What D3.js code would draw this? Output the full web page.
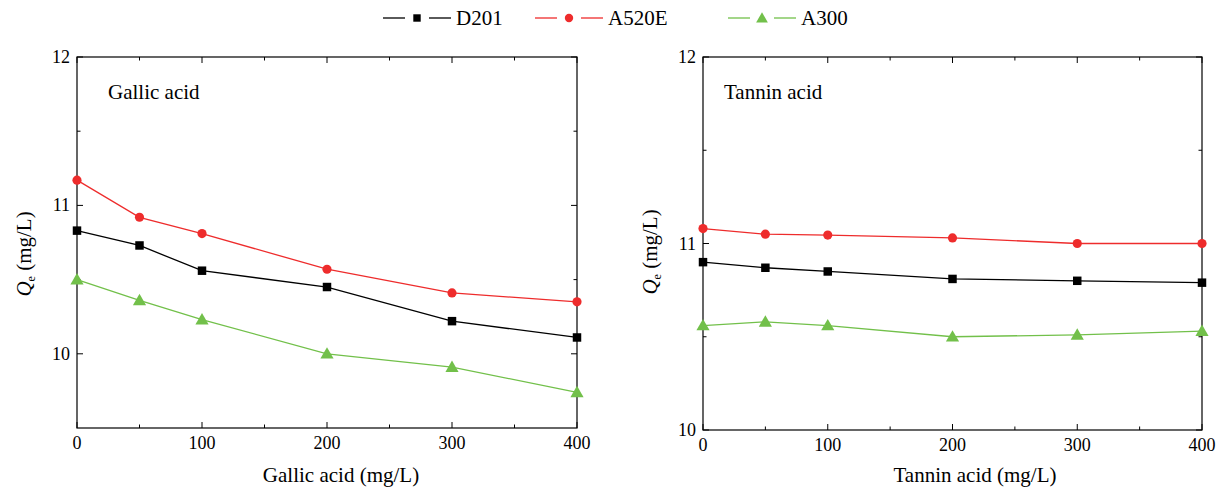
<!DOCTYPE html>
<html>
<head>
<meta charset="utf-8">
<script src="https://cdn.jsdelivr.net/npm/d3@7"></script>
<style>
  body { margin: 0; background: #fff; }
  svg text { font-family: "Liberation Serif", "Times New Roman", "DejaVu Serif", serif; }
</style>
</head>
<body>
<div id="chart"></div>
<script>
var xValues = [0, 50, 100, 200, 300, 400];
var seriesNames = ["D201", "A520E", "A300"];
var seriesColors = ["#000000", "#ee2c2c", "#72c04a"];
var seriesSymbols = [d3.symbolSquare, d3.symbolCircle, d3.symbolTriangle];

// Gallic acid panel
var gallicD201 = [10.83, 10.73, 10.56, 10.45, 10.22, 10.11];
var gallicA520E = [11.17, 10.92, 10.81, 10.57, 10.41, 10.35];
var gallicA300 = [10.50, 10.36, 10.23, 10.00, 9.91, 9.74];

// Tannin acid panel
var tanninD201 = [10.90, 10.87, 10.85, 10.81, 10.80, 10.79];
var tanninA520E = [11.08, 11.05, 11.045, 11.03, 11.00, 11.00];
var tanninA300 = [10.56, 10.58, 10.56, 10.50, 10.51, 10.53];

var xTicks = [0, 100, 200, 300, 400];
var xMinor = [50, 150, 250, 350];

var width = 1226, height = 490;
var svg = d3.select("#chart").append("svg")
    .attr("width", width)
    .attr("height", height)
    .attr("font-family", "Liberation Serif, Times New Roman, serif");

var panels = [
  {left: 77, right: 577, top: 57, bottom: 428, yDomain: [9.5, 12], yTicks: [10, 11, 12], yMinor: [10.5, 11.5],
   label: "Gallic acid", labelDx: 31, titleX: 31, titleY: 254, xTitleX: 341,
   xTitle: "Gallic acid (mg/L)", data: [gallicD201, gallicA520E, gallicA300]},
  {left: 703, right: 1202, top: 57, bottom: 430, yDomain: [10, 12], yTicks: [10, 11, 12], yMinor: [10.5, 11.5],
   label: "Tannin acid", labelDx: 21, titleX: 657, titleY: 252, xTitleX: 975,
   xTitle: "Tannin acid (mg/L)", data: [tanninD201, tanninA520E, tanninA300]}
];

panels.forEach(function(p) {
  var x = d3.scaleLinear().domain([0, 400]).range([p.left, p.right]);
  var y = d3.scaleLinear().domain(p.yDomain).range([p.bottom, p.top]);
  var g = svg.append("g");

  // frame
  g.append("rect")
    .attr("x", p.left).attr("y", p.top)
    .attr("width", p.right - p.left).attr("height", p.bottom - p.top)
    .attr("fill", "none").attr("stroke", "#000").attr("stroke-width", 1.2);

  // inward ticks on all four sides
  var xAll = xTicks.map(function(v) { return {v: v, len: 6}; })
    .concat(xMinor.map(function(v) { return {v: v, len: 3.5}; }));
  var yAll = p.yTicks.map(function(v) { return {v: v, len: 6}; })
    .concat(p.yMinor.map(function(v) { return {v: v, len: 3.5}; }));

  xAll.forEach(function(t) {
    g.append("line").attr("x1", x(t.v)).attr("x2", x(t.v))
      .attr("y1", p.bottom).attr("y2", p.bottom - t.len)
      .attr("stroke", "#000").attr("stroke-width", 1);
    g.append("line").attr("x1", x(t.v)).attr("x2", x(t.v))
      .attr("y1", p.top).attr("y2", p.top + t.len)
      .attr("stroke", "#000").attr("stroke-width", 1);
  });
  yAll.forEach(function(t) {
    g.append("line").attr("x1", p.left).attr("x2", p.left + t.len)
      .attr("y1", y(t.v)).attr("y2", y(t.v))
      .attr("stroke", "#000").attr("stroke-width", 1);
    g.append("line").attr("x1", p.right).attr("x2", p.right - t.len)
      .attr("y1", y(t.v)).attr("y2", y(t.v))
      .attr("stroke", "#000").attr("stroke-width", 1);
  });

  // tick labels
  g.selectAll(".xl").data(xTicks).enter().append("text")
    .attr("x", function(d) { return x(d); })
    .attr("y", p.bottom + 21)
    .attr("text-anchor", "middle")
    .attr("font-size", "18px")
    .text(function(d) { return d; });
  g.selectAll(".yl").data(p.yTicks).enter().append("text")
    .attr("x", p.left - 7)
    .attr("y", function(d) { return y(d) + 6; })
    .attr("text-anchor", "end")
    .attr("font-size", "18px")
    .text(function(d) { return d; });

  // axis titles
  g.append("text")
    .attr("x", p.xTitleX)
    .attr("y", 482)
    .attr("text-anchor", "middle")
    .attr("font-size", "21px")
    .text(p.xTitle);

  var yt = g.append("text")
    .attr("transform", "translate(" + p.titleX + "," + p.titleY + ") rotate(-90)")
    .attr("text-anchor", "middle")
    .attr("font-size", "21px");
  yt.append("tspan").attr("font-style", "italic").text("Q");
  yt.append("tspan").attr("font-size", "12px").attr("dy", 4).text("e");
  yt.append("tspan").attr("dy", -4).text(" (mg/L)");

  // panel label
  g.append("text")
    .attr("x", p.left + p.labelDx).attr("y", 99)
    .attr("font-size", "21px")
    .text(p.label);

  // series
  p.data.forEach(function(vals, i) {
    var pts = xValues.map(function(xv, j) { return [xv, vals[j]]; });
    g.append("path")
      .datum(pts)
      .attr("fill", "none")
      .attr("stroke", seriesColors[i])
      .attr("stroke-width", 1.3)
      .attr("d", d3.line().x(function(d) { return x(d[0]); }).y(function(d) { return y(d[1]); }));
    var sym = d3.symbol().type(seriesSymbols[i]).size(i === 2 ? 75 : (i === 0 ? 72 : 66));
    g.selectAll(".m" + i).data(pts).enter().append("path")
      .attr("transform", function(d) { return "translate(" + x(d[0]) + "," + (y(d[1]) + (i === 2 ? 1 : 0)) + ")"; })
      .attr("d", sym)
      .attr("fill", seriesColors[i]);
  });
});

// legend
var legendX = [383, 535, 728];
seriesNames.forEach(function(name, i) {
  var lx = legendX[i], ly = 18;
  var lg = svg.append("g");
  lg.append("line").attr("x1", lx).attr("x2", lx + 22).attr("y1", ly).attr("y2", ly)
    .attr("stroke", seriesColors[i]).attr("stroke-width", 1.3);
  lg.append("line").attr("x1", lx + 46).attr("x2", lx + 68).attr("y1", ly).attr("y2", ly)
    .attr("stroke", seriesColors[i]).attr("stroke-width", 1.3);
  lg.append("path")
    .attr("transform", "translate(" + (lx + 34) + "," + (ly + (i === 2 ? 1 : 0)) + ")")
    .attr("d", d3.symbol().type(seriesSymbols[i]).size(i === 2 ? 60 : 55)())
    .attr("fill", seriesColors[i]);
  lg.append("text")
    .attr("x", lx + 73).attr("y", ly + 7)
    .attr("font-size", "21px")
    .text(name);
});
</script>
</body>
</html>
